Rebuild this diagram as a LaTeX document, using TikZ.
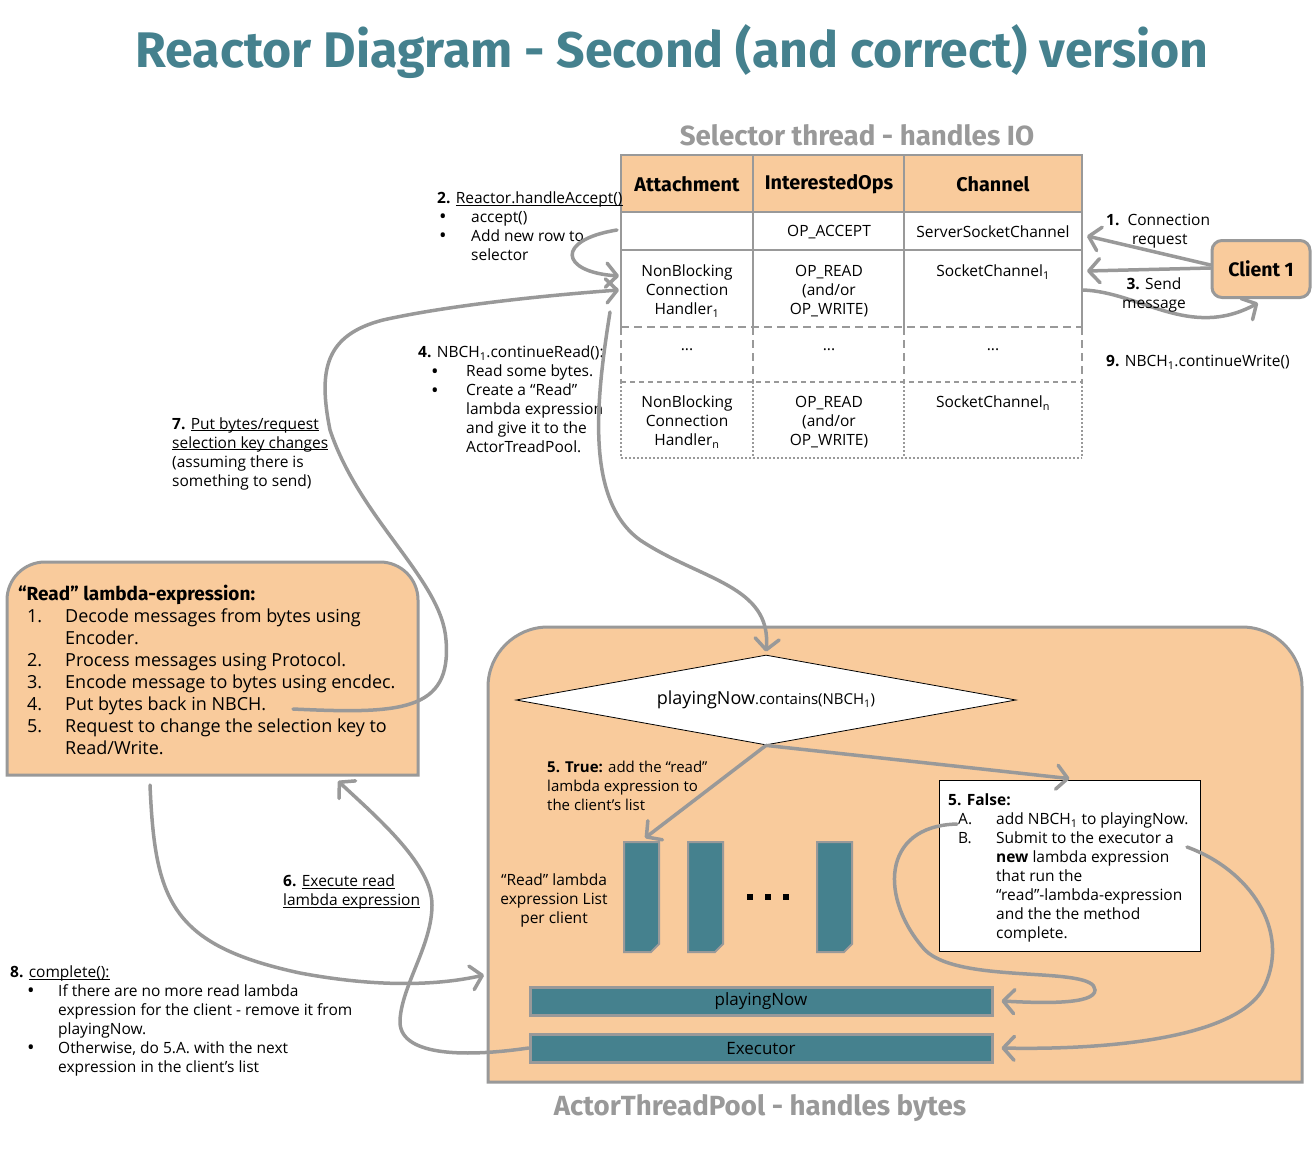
\documentclass[tikz,border=0pt]{standalone}
\usepackage{fontspec}
\setmainfont{Open Sans}
\newfontfamily\headfont{Fira Sans}
\usetikzlibrary{arrows.meta,shapes.geometric}

\definecolor{peach}{HTML}{F9CB9C}
\definecolor{rteal}{HTML}{45818E}
\definecolor{lgray}{HTML}{999999}
\newcommand{\uln}[1]{\underline{\smash{#1}}}
\newcommand{\bul}{\raisebox{-1.2pt}{\fontsize{20}{19}\selectfont\textbullet}}

\begin{document}
\begin{tikzpicture}[x=1pt, y=-1pt,
    tabline/.style={draw=lgray, line width=2pt},
    arr/.style={draw=lgray, line width=3.5pt, line cap=round, -{Straight Barb[round,length=11pt,width=24pt]}},
    ann/.style={font=\fontsize{15.5}{19}\selectfont, align=left, inner sep=0pt, anchor=north west},
    cell/.style={font=\fontsize{15.5}{19}\selectfont, align=center, inner sep=0pt, anchor=north},
    head/.style={font=\headfont\bfseries\fontsize{19.8}{22}\selectfont},
    grayhead/.style={font=\headfont\bfseries\fontsize{27.7}{30}\selectfont, text=lgray},
    shell/.style={fill=peach, draw=lgray, line width=3pt},
    bar/.style={fill=rteal, draw=lgray, line width=3pt, minimum width=462pt, minimum height=28pt, inner sep=0pt, font=\fontsize{17}{20}\selectfont},
    listdoc/.style={fill=rteal, draw=lgray, line width=2pt}]

    \path[use as bounding box, fill=white] (0,0) rectangle (1316,1151);

    % Titulo
    \node[font=\headfont\bfseries\fontsize{50}{54}\selectfont, text=rteal] (title) at (672,52) {Reactor Diagram - Second (and correct) version};
    \node[grayhead] (seltitle) at (857,135) {Selector thread - handles IO};

    % Tabela do selector
    \fill[peach] (621,155) rectangle (1082,212);
    \draw[tabline] (621,155) rectangle (1082,250);
    \draw[tabline] (621,212) -- (1082,212);
    \draw[tabline] (621,250) -- (621,327) (753,155) -- (753,327) (904,155) -- (904,327) (1082,250) -- (1082,327);
    \draw[tabline, dash pattern=on 8pt off 5pt] (621,327) -- (1082,327) (621,327) -- (621,382) (753,327) -- (753,382) (904,327) -- (904,382) (1082,327) -- (1082,382);
    \draw[tabline, dash pattern=on 5pt off 4pt] (621,382) -- (1082,382);
    \draw[tabline, dotted] (621,382) -- (621,458) (753,382) -- (753,458) (904,382) -- (904,458) (1082,382) -- (1082,458) (621,458) -- (1082,458);

    \node[head] (hatt) at (687,184) {Attachment};
    \node[head] (hops) at (829,184) {InterestedOps};
    \node[head] (hchan) at (993,184) {Channel};
    \node[cell, anchor=center] (acc) at (829,232) {OP\_ACCEPT};
    \node[cell, anchor=center] (ssc) at (993,232) {ServerSocketChannel};
    \node[cell] (nb1) at (687,265) {NonBlocking\\Connection\\Handler\textsubscript{1}};
    \node[cell] (op1) at (829,265) {OP\_READ\\(and/or\\OP\_WRITE)};
    \node[cell] (sc1) at (993,265) {SocketChannel\textsubscript{1}};
    \foreach \x/\n in {687/dota,829/dotb,993/dotc}
        \node[cell, anchor=center] (\n) at (\x,350) {...};
    \node[cell] (nbn) at (687,396) {NonBlocking\\Connection\\Handler\textsubscript{n}};
    \node[cell] (opn) at (829,396) {OP\_READ\\(and/or\\OP\_WRITE)};
    \node[cell] (scn) at (993,396) {SocketChannel\textsubscript{n}};

    % Cliente
    \node[fill=peach, draw=lgray, line width=3pt, rounded corners=10pt, minimum width=98pt, minimum height=57pt, font=\headfont\bfseries\fontsize{19.5}{22}\selectfont] (client) at (1261,269) {Client 1};

    \coordinate (tabra) at (1087,236);
    \coordinate (tabrb) at (1087,271);
    \coordinate (tabrc) at (1083,290);
    \draw[arr] ([yshift=4pt]client.west) -- (tabra);
    \draw[arr] ([yshift=1pt]client.west) -- (tabrb);
    \draw[arr] (tabrc) .. controls (1140,292) and (1190,340) .. ([xshift=-3pt,yshift=-4pt]client.south);

    \node[ann] (connreq) at (1106,214) {\textbf{1.}\ \ Connection\\\hspace*{26pt}request};
    \node[ann, align=center, anchor=north] (sendmsg) at (1154,278) {\textbf{3.} Send\\message};
    \node[ann] (contwrite) at (1106,355) {\textbf{9.} NBCH\textsubscript{1}.continueWrite()};

    % Passo 2 - accept
    \node[ann] (handleacc) at (437,192) {\textbf{2.} \uln{Reactor.handleAccept()}\\
        \hspace*{2pt}\makebox[32pt][l]{\bul}accept()\\
        \hspace*{2pt}\makebox[32pt][l]{\bul}Add new row to\\
        \hspace*{34pt}selector};
    \coordinate (accout) at (617,230);
    \coordinate (nbin) at (619,276);
    \draw[arr] (accout) .. controls (555,240) and (560,272) .. (nbin);

    % Passo 4 - continueRead
    \node[ann] (contread) at (418,346) {\textbf{4.} NBCH\textsubscript{1}.continueRead():\\
        \hspace*{13pt}\makebox[35pt][l]{\bul}Read some bytes.\\
        \hspace*{13pt}\makebox[35pt][l]{\bul}Create a “Read”\\
        \hspace*{48pt}lambda expression\\
        \hspace*{48pt}and give it to the\\
        \hspace*{48pt}ActorTreadPool.};

    % Passo 7
    \node[ann] (putbytes) at (172,418) {\textbf{7.} \uln{Put bytes/request}\\\uln{selection key changes}\\(assuming there is\\something to send)};

    % Caixa da expressao lambda
    \draw[shell] (7,775) -- (7,600) arc[start angle=180, end angle=90, radius=38pt] -- (380,562) arc[start angle=90, end angle=0, radius=38pt] -- (418,775) -- cycle;
    \node[ann, font=\fontsize{18}{22}\selectfont] (readlambda) at (18,585) {{\headfont\bfseries\fontsize{19}{22}\selectfont “Read” lambda-expression:}\\
        \hspace*{9pt}\makebox[38pt][l]{1.}Decode messages from bytes using\\
        \hspace*{47pt}Encoder.\\
        \hspace*{9pt}\makebox[38pt][l]{2.}Process messages using Protocol.\\
        \hspace*{9pt}\makebox[38pt][l]{3.}Encode message to bytes using encdec.\\
        \hspace*{9pt}\makebox[38pt][l]{4.}Put bytes back in NBCH.\\
        \hspace*{9pt}\makebox[38pt][l]{5.}Request to change the selection key to\\
        \hspace*{47pt}Read/Write.};

    % ActorThreadPool
    \draw[shell] (488,1082) -- (488,687) arc[start angle=180, end angle=90, radius=60pt] -- (1242,627) arc[start angle=90, end angle=0, radius=60pt] -- (1302,1082) -- cycle;
    \node[grayhead] (atptitle) at (760,1108) {ActorThreadPool - handles bytes};

    \node[diamond, draw=black, fill=white, line width=0.8pt, aspect=5.5, minimum width=500pt, minimum height=90pt, inner sep=0pt] (cond) at (766,700)
        {\fontsize{18}{20}\selectfont playingNow\fontsize{15}{16}\selectfont.contains(NBCH\textsubscript{1})};

    \node[ann, font=\fontsize{15}{19}\selectfont] (truetxt) at (547,761) {\textbf{5. True:} add the “read”\\lambda expression to\\the client’s list};
    \node[ann, align=center, anchor=north] (listtxt) at (554,874) {“Read” lambda\\expression List\\per client};

    % listas por cliente
    \foreach \x in {624,688,817}
        \draw[listdoc] (\x,842) -- ++(35,0) -- ++(0,102) -- ++(-8,8) -- ++(-27,0) -- cycle;
    \node (dots) at (768,897) {\rule{6pt}{6pt}\hspace{12pt}\rule{6pt}{6pt}\hspace{12pt}\rule{6pt}{6pt}};
    \coordinate (listtip) at (645,838);

    % caixa False
    \node[draw=black, fill=white, line width=0.8pt, minimum width=261pt, minimum height=171pt, inner sep=0pt] (falsebox) at (1069.5,865.5) {};
    \node[ann] (falsetxt) at (948,794) {\textbf{5. False:}\\
        \hspace*{10pt}\makebox[38pt][l]{A.}add NBCH\textsubscript{1} to playingNow.\\
        \hspace*{10pt}\makebox[38pt][l]{B.}Submit to the executor a\\
        \hspace*{48pt}\textbf{new} lambda expression\\
        \hspace*{48pt}that run the\\
        \hspace*{48pt}“read”-lambda-expression\\
        \hspace*{48pt}and the the method\\
        \hspace*{48pt}complete.};

    \node[bar] (pn) at (761,1001) {playingNow};
    \node[bar] (ex) at (761,1048) {Executor};

    \draw[arr] (cond.south) -- (listtip);
    \draw[arr] (cond.south) -- ([yshift=1pt]falsebox.north);
    \coordinate (fa) at (957,824);
    \coordinate (fb) at (1187,847);
    \draw[arr] (fa) .. controls (880,826) and (880,900) .. (925,950) .. controls (960,985) and (1095,965) .. (1095,990) .. controls (1095,1005) and (1040,1003) .. ([xshift=8pt]pn.east);
    \draw[arr] (fb) .. controls (1250,870) and (1290,930) .. (1265,985) .. controls (1240,1040) and (1100,1050) .. ([xshift=8pt]ex.east);

    % Passo 4 - seta ate o ActorThreadPool
    \coordinate (nbout) at (610,312);
    \draw[arr] (nbout) .. controls (596,400) and (585,500) .. (640,540) .. controls (700,580) and (772,585) .. ([yshift=3pt]cond.north);

    % Passo 7 - seta de volta
    \coordinate (nbchback) at (293,709);
    \coordinate (nbinb) at (619,290);
    \draw[arr] (nbchback) .. controls (400,714) and (452,712) .. (446,640) .. controls (442,580) and (360,520) .. (330,430) .. controls (318,370) and (325,335) .. (383,320) .. controls (450,305) and (550,295) .. (nbinb);

    % Passo 6
    \coordinate (readbot) at (338,781);
    \draw[arr] (ex.west) .. controls (460,1058) and (398,1055) .. (400,1020) .. controls (402,985) and (432,945) .. (432,905) .. controls (432,865) and (380,820) .. (readbot);
    \node[ann] (execread) at (283,875) {\textbf{6.} \uln{Execute read}\\\uln{lambda expression}};

    % Passo 8
    \coordinate (readout) at (150,785);
    \coordinate (atpleft) at (484,975);
    \draw[arr] (readout) .. controls (155,900) and (170,945) .. (300,973) .. controls (380,988) and (440,985) .. (atpleft);
    \node[ann] (complete) at (10,966) {\textbf{8.} \uln{complete():}\\
        \hspace*{17pt}\makebox[31pt][l]{\bul}If there are no more read lambda\\
        \hspace*{48pt}expression for the client - remove it from\\
        \hspace*{48pt}playingNow.\\
        \hspace*{17pt}\makebox[31pt][l]{\bul}Otherwise, do 5.A. with the next\\
        \hspace*{48pt}expression in the client’s list};
\end{tikzpicture}
\end{document}
